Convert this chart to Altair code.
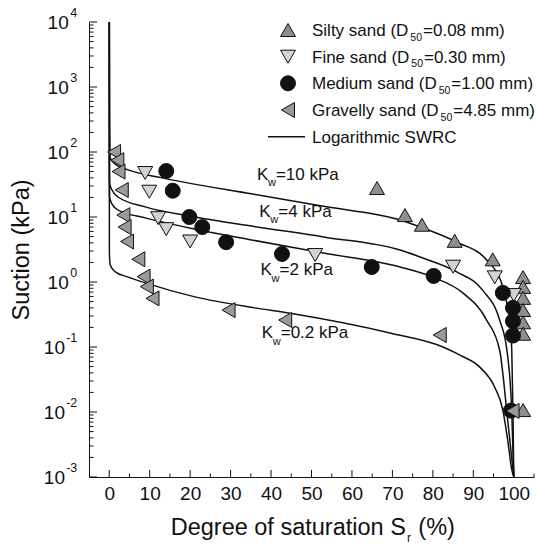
import altair as alt
import pandas as pd

F = "Liberation Sans"
INK = "#111111"

# ---------------- data ----------------
materials = ["Silty sand", "Fine sand", "Medium sand", "Gravelly sand"]
d50_values = ["0.08", "0.30", "1.00", "4.85"]

silty_x = [66.2, 73.1, 77.3, 85.4, 94.8, 102.3, 102.3, 102.3, 102.3, 102.3, 102.3, 102.3]
silty_y = [27.9, 10.7, 7.6, 4.3, 2.23, 1.19, 0.84, 0.57, 0.37, 0.24, 0.16, 0.0107]

fine_x = [8.9, 9.9, 12.1, 14.1, 20.0, 50.9, 85.0, 95.3, 100.0]
fine_y = [47.5, 24.5, 9.6, 6.5, 4.2, 2.6, 1.72, 1.18, 0.63]

medium_x = [14.1, 15.7, 19.8, 23.0, 28.9, 42.7, 64.9, 80.2, 97.3, 99.8, 99.8, 99.8, 99.3]
medium_y = [51, 25.4, 10, 7, 4.1, 2.7, 1.7, 1.24, 0.68, 0.40, 0.25, 0.15, 0.0105]

gravelly_x = [1.2, 2.0, 2.3, 3.1, 3.5, 3.8, 4.4, 7.2, 8.5, 9.3, 10.7, 29.5, 43.5, 81.7, 99.7]
gravelly_y = [100, 75, 50, 26, 10.7, 7.0, 4.2, 2.24, 1.21, 0.85, 0.56, 0.37, 0.26, 0.153, 0.0104]

kw10_x = [0.02, 0.08, 0.25, 1.5, 4.7, 13.1, 35.5, 53.3, 71.9, 77.5, 85.9, 93.3, 97.3, 98.2, 99.0, 99.5, 99.8, 100]
kw10_y = [10000, 300, 81, 65, 53, 40, 22.5, 14.5, 9.0, 6.8, 4.1, 2.18, 0.84, 0.5, 0.26, 0.09, 0.01, 0.001]

kw4_x = [0.02, 0.05, 0.1, 0.7, 2.2, 8.9, 21.2, 35.5, 53.3, 71.9, 77.5, 85.9, 92.3, 96.5, 98.3, 99.5, 100]
kw4_y = [10000, 50, 33, 26, 20.3, 14.3, 10, 7.2, 4.9, 3.1, 2.34, 1.43, 0.75, 0.26, 0.09, 0.01, 0.001]

kw2_x = [0.02, 0.05, 0.1, 0.7, 2.2, 8.9, 21.2, 35.5, 53.3, 71.9, 80, 87.4, 93.3, 96.5, 98.5, 100]
kw2_y = [10000, 35, 20, 15.8, 12.8, 9.7, 6.5, 4.4, 2.77, 1.7, 1.19, 0.68, 0.26, 0.09, 0.0075, 0.001]

kw02_x = [0.02, 0.04, 0.25, 1.5, 4.7, 8.9, 21.2, 36, 44.7, 69.4, 82.5, 86.7, 91.6, 95.3, 97.3, 98.5, 99.5, 100]
kw02_y = [10000, 2.8, 1.83, 1.43, 1.19, 0.97, 0.59, 0.40, 0.33, 0.164, 0.1, 0.075, 0.049, 0.024, 0.0107, 0.0037, 0.0013, 0.001]

kw_names = ["Kw=10", "Kw=4", "Kw=2", "Kw=0.2"]
kw_text = ["=10 kPa", "=4 kPa", "=2 kPa", "=0.2 kPa"]
kw_label_x = [36.5, 37.1, 37.4, 37.7]
kw_label_y = [37.1, 10.1, 1.28, 0.137]

x_tick_labels = [0, 10, 20, 30, 40, 50, 60, 70, 80, 90, 100]
y_exponents = [-3, -2, -1, 0, 1, 2, 3, 4]

# ---------------- tables ----------------
pts = pd.concat([
    pd.DataFrame({"Sr": xs, "s": ys, "material": m})
    for xs, ys, m in [(silty_x, silty_y, materials[0]), (fine_x, fine_y, materials[1]),
                      (medium_x, medium_y, materials[2]), (gravelly_x, gravelly_y, materials[3])]
], ignore_index=True)

curves = pd.concat([
    pd.DataFrame({"Sr": xs, "s": ys, "kw": n, "i": range(len(xs))})
    for xs, ys, n in [(kw10_x, kw10_y, kw_names[0]), (kw4_x, kw4_y, kw_names[1]),
                      (kw2_x, kw2_y, kw_names[2]), (kw02_x, kw02_y, kw_names[3])]
], ignore_index=True)

kw_lab = pd.DataFrame({"Sr": kw_label_x, "s": kw_label_y, "rest": kw_text})

x_major = pd.DataFrame({"Sr": list(range(0, 101, 10))})
x_minor = pd.DataFrame({"Sr": list(range(5, 106, 10))})
y_major = pd.DataFrame({"s": [10.0 ** e for e in y_exponents], "e": [str(e) for e in y_exponents]})
y_minor = pd.DataFrame({"s": [m * 10.0 ** e for e in range(-3, 4) for m in range(2, 10)]})

# ---------------- scales / axes ----------------
W, H = 445, 455
xs_ = alt.Scale(domain=[-5, 105], nice=False, zero=False)
ys_ = alt.Scale(type="log", domain=[0.001, 10000], nice=False)
shape_sc = alt.Scale(domain=materials, range=["triangle-up", "triangle-down", "circle", "triangle-left"])
fill_sc = alt.Scale(domain=materials, range=["#8e8e8e", "#d2d2d2", "#111111", "#9a9a9a"])
size_sc = alt.Scale(domain=materials, range=[225, 225, 170, 225])

xax = alt.Axis(title=None, values=x_tick_labels, ticks=False, grid=False, domain=True,
               domainColor=INK, domainWidth=1, labelFont=F, labelFontSize=19,
               labelColor=INK, labelPadding=7, labelFlush=False)
yax = alt.Axis(title="Suction (kPa)", ticks=False, labels=False, grid=False, domain=True,
               domainColor=INK, domainWidth=1, titleFont=F, titleFontSize=23.5,
               titleFontWeight="normal", titleColor=INK, titleAngle=-90,
               titleX=-61, titleY=227.5, titleAlign="center", titleBaseline="alphabetic")

X = lambda: alt.X("Sr:Q", scale=xs_, axis=xax)
Y = lambda: alt.Y("s:Q", scale=ys_, axis=yax)

lines = alt.Chart(curves).mark_line(strokeWidth=1.5, color=INK, interpolate="monotone").encode(
    x=X(), y=Y(), detail="kw:N", order="i:Q")

points = alt.Chart(pts).mark_point(filled=True, opacity=1, stroke=INK, strokeWidth=1).encode(
    x=X(), y=Y(),
    shape=alt.Shape("material:N", scale=shape_sc, legend=None),
    fill=alt.Fill("material:N", scale=fill_sc, legend=None),
    size=alt.Size("material:N", scale=size_sc, legend=None),
)

xt_major = alt.Chart(x_major).mark_rule(color=INK, strokeWidth=1).encode(
    x=X(), y=alt.value(H - 7), y2=alt.value(H))
xt_minor = alt.Chart(x_minor).mark_rule(color=INK, strokeWidth=1).encode(
    x=X(), y=alt.value(H - 3.5), y2=alt.value(H))
yt_major = alt.Chart(y_major).mark_rule(color=INK, strokeWidth=1).encode(
    y=Y(), x=alt.value(0), x2=alt.value(8))
yt_minor = alt.Chart(y_minor).mark_rule(color=INK, strokeWidth=1).encode(
    y=Y(), x=alt.value(0), x2=alt.value(4.5))

ylab_exp = alt.Chart(y_major).mark_text(font=F, fontSize=12.5, align="right", baseline="alphabetic",
                                        dy=-5, color=INK).encode(
    y=Y(), x=alt.value(-11.7), text="e:N")
ylab_ten_pos = alt.Chart(y_major).transform_filter("datum.s >= 1").mark_text(
    font=F, fontSize=19, align="right", baseline="alphabetic", dy=7, color=INK, text="10").encode(
    y=Y(), x=alt.value(-20.3))
ylab_ten_neg = alt.Chart(y_major).transform_filter("datum.s < 1").mark_text(
    font=F, fontSize=19, align="right", baseline="alphabetic", dy=7, color=INK, text="10").encode(
    y=Y(), x=alt.value(-24))

kK = alt.Chart(kw_lab).mark_text(font=F, fontSize=17, align="left", baseline="alphabetic",
                                 color=INK, text="K").encode(x=X(), y=Y())
kw_ = alt.Chart(kw_lab).mark_text(font=F, fontSize=11, align="left", baseline="alphabetic",
                                  color=INK, text="w", dx=11, dy=6.5).encode(x=X(), y=Y())
krest = alt.Chart(kw_lab).mark_text(font=F, fontSize=17, align="left", baseline="alphabetic",
                                    color=INK, dx=19).encode(x=X(), y=Y(), text="rest:N")

# ---------------- legend (drawn with the same shape / fill / size scales) ----------------
ARIAL = {" ": 278, "(": 333, ")": 333, ".": 278, "=": 584, "D": 722, "F": 611, "G": 778,
         "M": 833, "S": 667, "a": 556, "d": 556, "e": 556, "i": 222, "l": 222, "m": 833,
         "n": 556, "r": 333, "s": 500, "t": 278, "u": 556, "v": 500, "y": 500}
def text_w(t, size):
    return sum(ARIAL.get(c, 556) for c in t) * size / 1000.0

LEG_FS, SUB_FS = 17, 10.5
row_y = [8, 34.7, 61.3, 88]
sym_x, txt_x = 199, 223
leg_df = pd.DataFrame({"material": materials, "d50": d50_values})
legend_layers = []
for m, d, yy in zip(materials, d50_values, row_y):
    sub = leg_df[leg_df.material == m]
    head = f"{m} (D"
    tail = f"={d} mm)"
    x_sub = txt_x + text_w(head, LEG_FS) + 2
    x_tail = x_sub + text_w("50", SUB_FS) + 1
    legend_layers += [
        alt.Chart(sub).mark_point(filled=True, opacity=1, stroke=INK, strokeWidth=1).encode(
            x=alt.value(sym_x), y=alt.value(yy),
            shape=alt.Shape("material:N", scale=shape_sc, legend=None),
            fill=alt.Fill("material:N", scale=fill_sc, legend=None),
            size=alt.Size("material:N", scale=size_sc, legend=None)),
        alt.Chart(sub).mark_text(font=F, fontSize=LEG_FS, align="left", baseline="alphabetic",
                                 color=INK, text=head).encode(x=alt.value(txt_x), y=alt.value(yy + 6)),
        alt.Chart(sub).mark_text(font=F, fontSize=SUB_FS, align="left", baseline="alphabetic",
                                 color=INK, text="50").encode(x=alt.value(x_sub), y=alt.value(yy + 10.5)),
        alt.Chart(sub).mark_text(font=F, fontSize=LEG_FS, align="left", baseline="alphabetic",
                                 color=INK, text=tail).encode(x=alt.value(x_tail), y=alt.value(yy + 6)),
    ]
line_row = 114.7
legend_layers += [
    alt.Chart(leg_df.head(1)).mark_rule(color=INK, strokeWidth=1.5).encode(
        x=alt.value(179), x2=alt.value(216), y=alt.value(line_row)),
    alt.Chart(leg_df.head(1)).mark_text(font=F, fontSize=LEG_FS, align="left", baseline="alphabetic",
                                        color=INK, text="Logarithmic SWRC").encode(
        x=alt.value(txt_x), y=alt.value(line_row + 6)),
]

# ---------------- x-axis title with subscript ----------------
title_df = pd.DataFrame({"t": ["Degree of saturation S"]})
xt1 = alt.Chart(title_df).mark_text(font=F, fontSize=23.5, align="left", baseline="alphabetic",
                                    color=INK).encode(x=alt.value(81.7), y=alt.value(513), text="t:N")
xt2 = alt.Chart(title_df).mark_text(font=F, fontSize=12, align="left", baseline="alphabetic",
                                    color=INK, text="r").encode(x=alt.value(318), y=alt.value(519.5))
xt3 = alt.Chart(title_df).mark_text(font=F, fontSize=23.5, align="left", baseline="alphabetic",
                                    color=INK, text="(%)").encode(x=alt.value(329.3), y=alt.value(513))

chart = alt.layer(
    lines, xt_major, xt_minor, yt_major, yt_minor, points,
    ylab_exp, ylab_ten_pos, ylab_ten_neg, kK, kw_, krest, *legend_layers, xt1, xt2, xt3
).properties(
    width=W, height=H,
    padding={"left": 89, "top": 22, "right": 2, "bottom": 68},
    autosize=alt.AutoSizeParams(type="none"),
    background="white",
).configure_view(stroke=None)

chart.save("out.html", embed_options={"renderer": "svg", "actions": False})
